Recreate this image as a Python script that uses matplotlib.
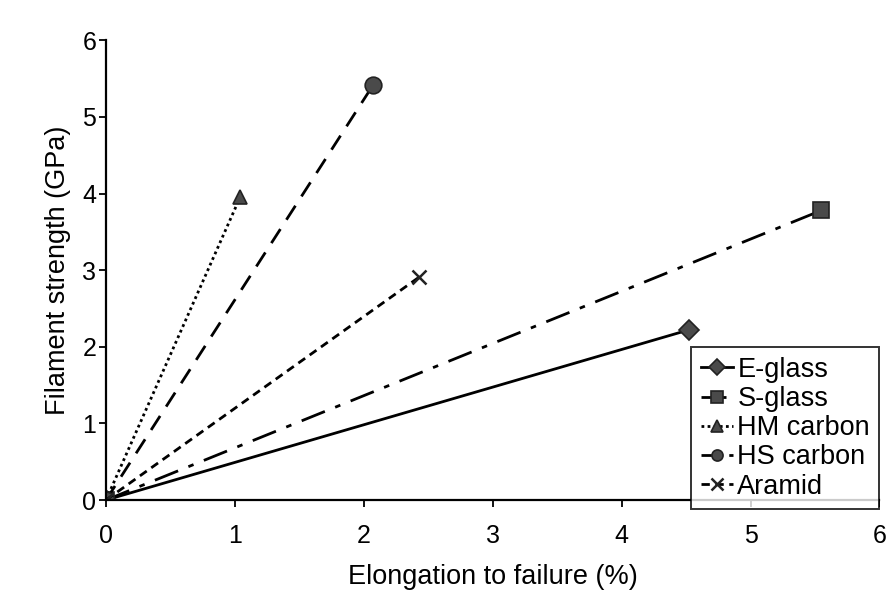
import numpy as np
import matplotlib.pyplot as plt

plt.rcParams['font.family'] = ['Liberation Sans', 'DejaVu Sans']

# fibre, elongation to failure (%), filament strength (GPa)
fibres = ['E-glass', 'S-glass', 'HM carbon', 'HS carbon', 'Aramid']
elongation = [4.52, 5.55, 1.04, 2.07, 2.43]
strength = [2.22, 3.78, 3.95, 5.41, 2.91]

styles = ['-', (0, (9, 4, 2, 4)), (0, (1, 1.2)), (0, (6, 4)), (0, (3, 2))]
markers = ['D', 's', '^', 'o', 'x']
msizes = [10, 11, 10, 12, 10]

fig = plt.figure(figsize=(8.87, 6.01), dpi=100)
ax = fig.add_axes([0.1195, 0.168, 0.872, 0.765])

for name, e, s, ls, m, ms in zip(fibres, elongation, strength, styles, markers, msizes):
    ax.plot([0, e], [0, s], linestyle=ls, color='black', lw=2,
            marker=m, markersize=ms, markerfacecolor='#4a4a4a',
            markeredgecolor='#222222', markeredgewidth=1.2 if m != 'x' else 1.8,
            label=name)

ax.set_xlim(0, 6)
ax.set_ylim(0, 6)
ax.set_xticks(range(7))
ax.set_yticks(range(7))
for sp in ['top', 'right']:
    ax.spines[sp].set_visible(False)
for sp in ['left', 'bottom']:
    ax.spines[sp].set_linewidth(1.6)
ax.tick_params(direction='out', length=5, width=1.3, labelsize=18)
ax.tick_params(axis='y', pad=2)
ax.tick_params(axis='x', pad=12)
ax.set_xlabel('Elongation to failure (%)', fontsize=19.5, labelpad=12)
ax.set_ylabel('Filament strength (GPa)', fontsize=19.5, labelpad=8)

leg = ax.legend(loc='lower right', bbox_to_anchor=(1.0, -0.02), fontsize=19.5,
                frameon=True, fancybox=False, edgecolor='black', handlelength=1.2,
                handletextpad=0.15, borderpad=0.35, labelspacing=0.12, borderaxespad=0)
leg.get_frame().set_linewidth(1.4)
for h in leg.legend_handles:
    h.set_markersize(8)

fig.savefig('out.png', dpi=100)
